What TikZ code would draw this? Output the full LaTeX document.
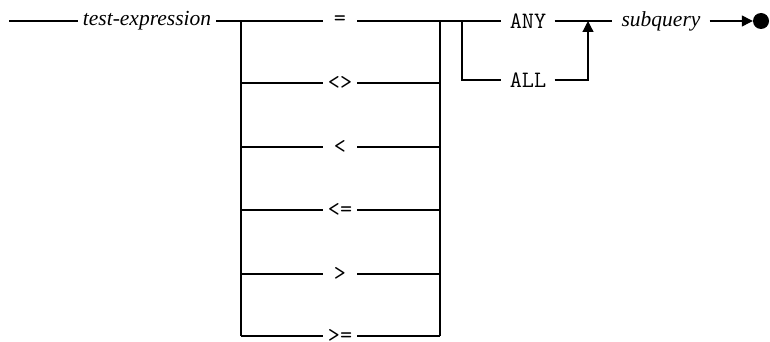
\documentclass[tikz,border=0pt]{standalone}
\usepackage{fontspec}
\setmainfont{Liberation Serif}
\usetikzlibrary{arrows.meta}
\begin{document}
\begin{tikzpicture}[x=1pt,y=-1pt,
  rail/.style={line width=1.2pt, black},
  term/.style={font=\fontsize{23.5}{21}\selectfont\ttfamily, inner sep=0pt},
  nonterm/.style={font=\fontsize{21.5}{21}\selectfont\itshape, inner sep=0pt},
  op/.style={term, minimum width=34pt},
  kw/.style={term, minimum width=53pt},
  tip/.style={-{Triangle[length=11pt,width=11pt]}}
]
\useasboundingbox (0,0) rectangle (770,342);
% start
\coordinate (start) at (9,21);
\node[nonterm, minimum width=138pt] (te) at (147,21) {test-expression};
% operators
\node[op] (eq) at (340,21) {=};
\node[op] (ne) at (340,83) {<>};
\node[op] (lt) at (340,147) {<};
\node[op] (le) at (340,210) {<=};
\node[op] (gt) at (340,274) {>};
\node[op] (ge) at (340,336) {>=};
% bus coordinates
\coordinate (l1) at (241,21);
\coordinate (l2) at (241,83);
\coordinate (l3) at (241,147);
\coordinate (l4) at (241,210);
\coordinate (l5) at (241,274);
\coordinate (l6) at (241,336);
\coordinate (r1) at (440,21);
\coordinate (r2) at (440,83);
\coordinate (r3) at (440,147);
\coordinate (r4) at (440,210);
\coordinate (r5) at (440,274);
\coordinate (r6) at (440,336);
% ANY / ALL
\node[kw] (any) at (528,21) {ANY};
\node[kw] (all) at (528,80) {ALL};
\coordinate (b1) at (462,21);
\coordinate (m1) at (588,21);
\node[nonterm, minimum width=97pt] (sq) at (661,21) {subquery};
\node[circle, fill=black, inner sep=0pt, minimum size=16pt] (fin) at (761,21) {};

% rails
\draw[rail] (start) -- (te.west);
\draw[rail] (te.east) -- (eq.west);
\draw[rail] (eq.east) -- (any.west);
\draw[rail] (l1) -- (l6);
\draw[rail] (r1) -- (r6);
\draw[rail] (l2) -- (ne.west);  \draw[rail] (ne.east) -- (r2);
\draw[rail] (l3) -- (lt.west);  \draw[rail] (lt.east) -- (r3);
\draw[rail] (l4) -- (le.west);  \draw[rail] (le.east) -- (r4);
\draw[rail] (l5) -- (gt.west);  \draw[rail] (gt.east) -- (r5);
\draw[rail] (l6) -- (ge.west);  \draw[rail] (ge.east) -- (r6);
\draw[rail] (b1) |- (all.west);
\draw[rail, tip] (all.east) -| (m1);
\draw[rail] (any.east) -- (sq.west);
\draw[rail, tip] (sq.east) -- (fin.west);
\end{tikzpicture}
\end{document}
